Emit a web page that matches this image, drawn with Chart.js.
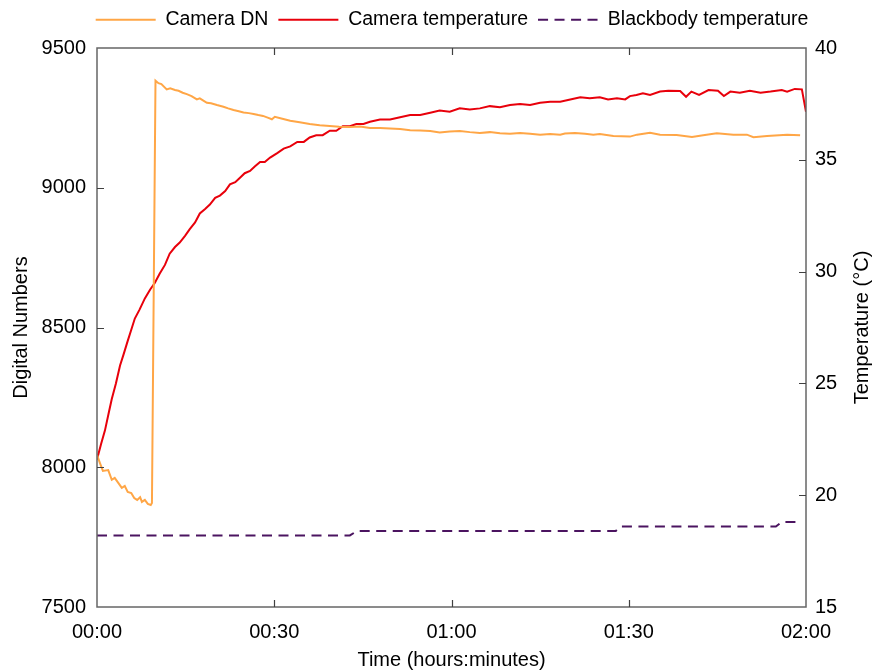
<!DOCTYPE html>
<html>
<head>
<meta charset="utf-8">
<script src="https://cdn.jsdelivr.net/npm/chart.js@4.4.1/dist/chart.umd.min.js"></script>
<style>
html,body{margin:0;padding:0;background:#ffffff;}
#wrap{width:874px;height:670px;}
</style>
</head>
<body>
<div id="wrap"><canvas id="c" width="874" height="670"></canvas></div>
<script>
// ---- data (time in minutes) ----
const seriesNames = ['Camera DN', 'Camera temperature', 'Blackbody temperature'];
const axisTitles = { x: 'Time (hours:minutes)', yLeft: 'Digital Numbers', yRight: 'Temperature (°C)' };

const dnTime = [0,0.5,1.0,1.9,2.5,3.0,3.6,4.2,4.7,5.2,5.8,6.3,6.8,7.3,7.6,8.1,8.6,9.1,9.3,
  9.9,10.4,10.9,11.8,12.4,13.2,13.8,14.5,15.2,16.0,16.9,17.4,18.0,18.6,19.3,20.3,21.4,22.2,23.1,24.0,24.8,
  25.7,26.5,27.3,28.1,29.0,29.6,30.1,31.2,32.7,34.3,36.0,37.7,39.4,41.0,42.8,44.5,46.2,47.9,49.6,51.3,
  53.0,54.7,56.4,58.0,59.7,61.4,63.1,64.8,66.5,68.2,69.9,71.6,73.3,75.0,76.7,78.4,79.2,80.9,82.6,84.0,
  85.1,87.4,90.2,91.4,93.6,95.3,98.1,100.7,102.6,104.9,107.7,110.0,111.1,113.4,116.8,119.0];
const dnValues = [8044,8015,7987,7990,7955,7962,7944,7926,7933,7912,7908,7890,7883,7893,7876,7883,7869,7865,7872,
  9383,9374,9371,9352,9356,9350,9347,9340,9335,9328,9316,9320,9312,9304,9302,9296,9290,9284,9278,9274,9269,
  9267,9264,9260,9257,9250,9245,9254,9248,9240,9234,9228,9224,9221,9218,9217,9219,9214,9214,9212,9210,
  9206,9205,9203,9198,9201,9203,9199,9196,9199,9195,9193,9196,9193,9190,9192,9190,9194,9196,9193,9190,
  9192,9185,9183,9190,9197,9190,9189,9182,9188,9195,9190,9190,9181,9185,9190,9188];

const tempTime = [0,0.7,1.35,2.0,2.5,3.2,3.9,4.5,5.2,5.8,6.4,7.2,8.1,9.0,9.8,10.6,11.5,12.3,13.2,14.0,
  14.9,15.7,16.6,17.4,18.3,19.1,20.0,20.8,21.7,22.5,23.4,24.2,25.0,25.9,26.7,27.6,28.4,29.3,30.5,31.6,
  32.7,33.9,35.0,36.0,37.1,38.2,39.4,40.5,41.6,42.8,43.9,45.1,46.2,47.9,49.6,51.3,53.0,54.7,56.4,58.0,
  59.7,61.4,63.1,64.8,66.5,68.2,69.9,71.6,73.3,75.0,76.7,78.4,80.1,81.8,83.4,85.1,86.5,88.0,89.4,90.2,
  91.3,92.4,93.6,95.3,96.7,98.7,99.7,100.6,101.9,103.5,105.1,106.1,107.2,108.8,110.5,112.3,114.0,115.9,
  116.8,118.1,119.3,120.0];
const tempValues = [21.6,22.3,22.9,23.7,24.3,25.0,25.8,26.3,26.9,27.4,27.9,28.3,28.8,29.2,29.5,29.9,30.3,30.8,31.1,31.3,
  31.6,31.9,32.2,32.6,32.8,33.0,33.3,33.4,33.6,33.9,34.0,34.2,34.4,34.5,34.7,34.9,34.9,35.1,35.3,35.5,
  35.6,35.8,35.8,36.0,36.1,36.1,36.3,36.3,36.5,36.5,36.6,36.6,36.7,36.8,36.8,36.9,37.0,37.0,37.1,37.2,
  37.15,37.3,37.25,37.3,37.4,37.35,37.45,37.5,37.45,37.55,37.6,37.6,37.7,37.8,37.75,37.8,37.7,37.75,37.7,37.85,
  37.9,37.97,37.9,38.05,38.09,38.08,37.82,38.05,37.9,38.12,38.09,37.85,38.05,38.0,38.09,38.0,38.05,38.12,
  38.05,38.17,38.15,37.15];

const bbTime = [0,42.8,44.0,87.8,88.6,114.9,115.9,118.7];
const bbValues = [18.2,18.2,18.4,18.4,18.6,18.6,18.8,18.8];

const xTickStep = 30;
const dnAxisRange = [7500, 9500, 500];
const tempAxisRange = [15, 40, 5];
const timeRange = [0, 120];

// ---- build ----
const pts = (xs, ys) => xs.map((v, i) => ({ x: v, y: ys[i] }));
const fmtTime = v => {
  const h = Math.floor(v / 60), m = Math.round(v % 60);
  return String(h).padStart(2, '0') + ':' + String(m).padStart(2, '0');
};

Chart.defaults.font.family = "'Liberation Sans', Arial, sans-serif";
Chart.defaults.color = '#000000';

const COLORS = ['#ffa646', '#e8000b', '#4b1460'];
const DASH = [10, 6.5];

// dashed legend swatch
const dashSwatch = document.createElement('canvas');
dashSwatch.width = 60; dashSwatch.height = 4;
(() => {
  const g = dashSwatch.getContext('2d');
  g.strokeStyle = COLORS[2]; g.lineWidth = 2; g.setLineDash(DASH);
  g.beginPath(); g.moveTo(0, 2); g.lineTo(60, 2); g.stroke();
})();

const FRAME = '#666666';

const framePlugin = {
  id: 'frameTicks',
  afterDatasetsDraw(chart) {
    const { ctx, chartArea: { left, right, top, bottom }, scales } = chart;
    ctx.save();
    ctx.strokeStyle = FRAME;
    ctx.lineWidth = 1.5;
    ctx.setLineDash([]);
    ctx.strokeRect(left, top, right - left, bottom - top);
    ctx.strokeStyle = '#404040';
    ctx.lineWidth = 1.2;
    const L = 7;
    ctx.beginPath();
    scales.x.ticks.forEach(t => {
      if (t.value <= scales.x.min || t.value >= scales.x.max) return;
      const p = Math.round(scales.x.getPixelForValue(t.value)) + 0.5;
      ctx.moveTo(p, bottom); ctx.lineTo(p, bottom - L);
      ctx.moveTo(p, top); ctx.lineTo(p, top + L);
    });
    scales.y.ticks.forEach(t => {
      if (t.value <= scales.y.min || t.value >= scales.y.max) return;
      const p = Math.round(scales.y.getPixelForValue(t.value)) + 0.5;
      ctx.moveTo(left, p); ctx.lineTo(left + L, p);
    });
    scales.y2.ticks.forEach(t => {
      if (t.value <= scales.y2.min || t.value >= scales.y2.max) return;
      const p = Math.round(scales.y2.getPixelForValue(t.value)) + 0.5;
      ctx.moveTo(right, p); ctx.lineTo(right - L, p);
    });
    ctx.stroke();
    // right axis title (reads bottom-to-top)
    ctx.fillStyle = '#000';
    ctx.font = "20px 'Liberation Sans', Arial, sans-serif";
    ctx.textAlign = 'center';
    ctx.textBaseline = 'middle';
    ctx.translate(862, (top + bottom) / 2);
    ctx.rotate(-Math.PI / 2);
    ctx.fillText(axisTitles.yRight, 0, 0);
    ctx.restore();
  }
};

const legendPatch = {
  id: 'legendPatch',
  beforeLayout(chart) {
    const lg = chart.legend;
    if (!lg || lg._patched) return;
    const f = lg.fit.bind(lg);
    lg.fit = function () { f(); this.height = 48; };
    const d = lg.draw.bind(lg);
    lg.draw = function () {
      const c = this.ctx; c.save(); c.translate(15, 0); d(); c.restore();
    };
    lg._patched = true;
  }
};

new Chart(document.getElementById('c'), {
  type: 'line',
  data: {
    datasets: [
      { label: seriesNames[0], data: pts(dnTime, dnValues), yAxisID: 'y',
        borderColor: COLORS[0], backgroundColor: COLORS[0], borderWidth: 2, pointRadius: 0, tension: 0,
        pointStyle: 'line' },
      { label: seriesNames[1], data: pts(tempTime, tempValues), yAxisID: 'y2',
        borderColor: COLORS[1], backgroundColor: COLORS[1], borderWidth: 2, pointRadius: 0, tension: 0,
        pointStyle: 'line' },
      { label: seriesNames[2], data: pts(bbTime, bbValues), yAxisID: 'y2',
        borderColor: COLORS[2], backgroundColor: COLORS[2], borderWidth: 2, borderDash: DASH,
        pointRadius: 0, tension: 0, pointStyle: dashSwatch }
    ]
  },
  options: {
    responsive: false,
    animation: false,
    devicePixelRatio: 1,
    layout: { padding: { left: 0, right: 0, top: 0, bottom: 0 } },
    plugins: {
      legend: {
        position: 'top',
        fullSize: true,
        labels: {
          usePointStyle: true, pointStyleWidth: 60,
          font: { size: 19.5 }, color: '#000', padding: 10
        }
      },
      tooltip: { enabled: false }
    },
    scales: {
      x: {
        type: 'linear', position: 'bottom', min: timeRange[0], max: timeRange[1],
        afterFit: s => { s.height = 63; },
        ticks: { stepSize: xTickStep, callback: v => fmtTime(v), font: { size: 20 }, color: '#000', padding: 13, maxRotation: 0 },
        grid: { display: false, drawTicks: false },
        border: { display: false },
        title: { display: true, text: axisTitles.x, font: { size: 20, lineHeight: 1.2 }, color: '#000', padding: { top: 0, bottom: -2 } }
      },
      y: {
        type: 'linear', position: 'left', min: dnAxisRange[0], max: dnAxisRange[1],
        afterFit: s => { s.width = 97; },
        ticks: { stepSize: dnAxisRange[2], callback: v => String(v), font: { size: 20 }, color: '#000', padding: 11 },
        grid: { display: false, drawTicks: false },
        border: { display: false },
        title: { display: true, text: axisTitles.yLeft, font: { size: 20, lineHeight: 1.2 }, color: '#000', padding: { top: 9, bottom: 0 } }
      },
      y2: {
        type: 'linear', position: 'right', min: tempAxisRange[0], max: tempAxisRange[1],
        afterFit: s => { s.width = 68; },
        ticks: { stepSize: tempAxisRange[2], callback: v => String(v), font: { size: 20 }, color: '#000', padding: 9 },
        grid: { display: false, drawTicks: false },
        border: { display: false }
      }
    }
  },
  plugins: [legendPatch, framePlugin]
});
</script>
</body>
</html>
